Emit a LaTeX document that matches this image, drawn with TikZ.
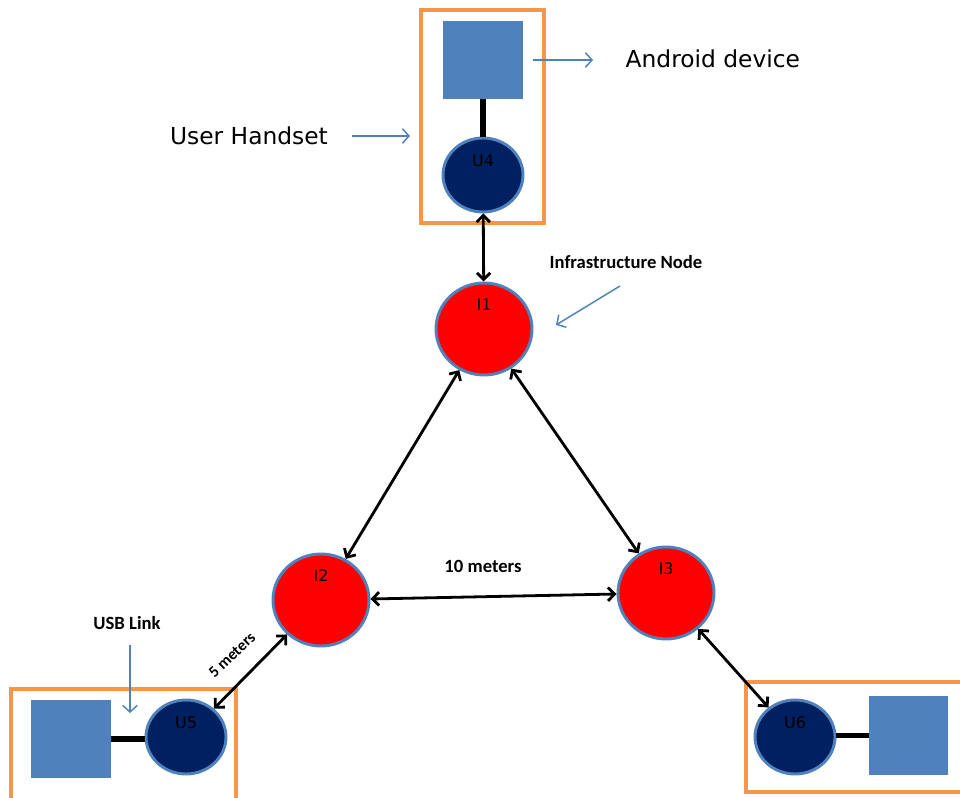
\documentclass[tikz,border=0pt]{standalone}
\usepackage{fontspec}
\setmainfont{DejaVu Sans}
\newfontfamily\carlito{Carlito}
\usetikzlibrary{shapes.geometric,arrows.meta}
\definecolor{ringblue}{HTML}{4F81BD}
\definecolor{devblue}{HTML}{4F81BD}
\definecolor{navyfill}{HTML}{002060}
\definecolor{frameorange}{HTML}{F79646}
\begin{document}
\begin{tikzpicture}[x=0.75pt,y=-0.75pt,
  infra/.style={ellipse, draw=ringblue, line width=2.2pt, fill=red, minimum width=72pt, minimum height=69pt, inner sep=0pt},
  user/.style={ellipse, draw=ringblue, line width=2.2pt, fill=navyfill, minimum width=60pt, minimum height=55.5pt, inner sep=0pt},
  device/.style={rectangle, fill=devblue, minimum width=60pt, minimum height=58.5pt, inner sep=0pt},
  framebox/.style={rectangle, draw=frameorange, line width=2.4pt, inner sep=0pt},
  nlabel/.style={font=\fontsize{12}{14}\selectfont, text=black},
  link/.style={line width=2.1pt, {Straight Barb[length=5pt,width=10pt]}-{Straight Barb[length=5pt,width=10pt]}},
  usb/.style={line width=3.8pt},
  pointer/.style={draw=devblue, line width=1.1pt, -{Straight Barb[length=5pt,width=11pt]}},
  bigtext/.style={font=\fontsize{17.5}{20}\selectfont},
  boldtext/.style={font=\carlito\bfseries\fontsize{14}{16}\selectfont},
]
\useasboundingbox (0,0) rectangle (960,798);

% frames
\node[framebox, minimum width=92.25pt, minimum height=159.75pt] (f4) at (482.5,116.5) {};
\node[framebox, minimum width=168.75pt, minimum height=90pt] (f5) at (123.5,749) {};
\node[framebox, minimum width=168pt, minimum height=82.5pt] (f6) at (858,737) {};

% devices
\node[device] (d4) at (483,60) {};
\node[device] (d5) at (71,739) {};
\node[device, minimum width=59.25pt, minimum height=59.25pt] (d6) at (908.5,735.5) {};

% user handsets
\node[user, label={[nlabel, yshift=11pt]center:U4}] (U4) at (483,175) {};
\node[user, label={[nlabel, yshift=11pt]center:U5}] (U5) at (186,737) {};
\node[user, label={[nlabel, yshift=11pt]center:U6}] (U6) at (795,737) {};

% infrastructure nodes
\node[infra, label={[nlabel, yshift=18pt]center:I1}] (I1) at (484,329) {};
\node[infra, label={[nlabel, yshift=18.5pt]center:I2}] (I2) at (321,600) {};
\node[infra, label={[nlabel, yshift=18.5pt]center:I3}] (I3) at (666,593) {};

% usb links
\draw[usb] (d4.south) -- (U4.north);
\draw[usb] (d5.east) -- (d5.east -| U5.west);
\draw[usb] (U6.east |- d6.west) -- (d6.west);

% radio links
\draw[link] (U4) -- (I1);
\draw[link] (I1) -- (I2);
\draw[link] (I1) -- (I3);
\draw[link] (I2) -- (I3);
\draw[link] (U5) -- (I2);
\draw[link] (I3) -- (U6);

% texts
\node[bigtext, anchor=west] (tand) at (621,59) {Android device};
\node[bigtext] (tuser) at (249,136) {User Handset};
\node[boldtext] (tinfra) at (626,262) {Infrastructure Node};
\node[boldtext] (tten) at (483,566) {10 meters};
\node[boldtext] (tusb) at (127,623) {USB Link};
\node[font=\carlito\bfseries\fontsize{12}{14}\selectfont, rotate=44] (tfive) at (232,655) {5 meters};

% pointer arrows
\coordinate (pa1) at (533,60);
\coordinate (pa2) at (593,60);
\coordinate (pb1) at (352,136);
\coordinate (pb2) at (410,136);
\coordinate (pc1) at (620,286);
\coordinate (pc2) at (556,325);
\coordinate (pd1) at (130,645);
\coordinate (pd2) at (130,713);
\draw[pointer] (pa1) -- (pa2);
\draw[pointer] (pb1) -- (pb2);
\draw[pointer] (pc1) -- (pc2);
\draw[pointer] (pd1) -- (pd2);
\end{tikzpicture}
\end{document}
